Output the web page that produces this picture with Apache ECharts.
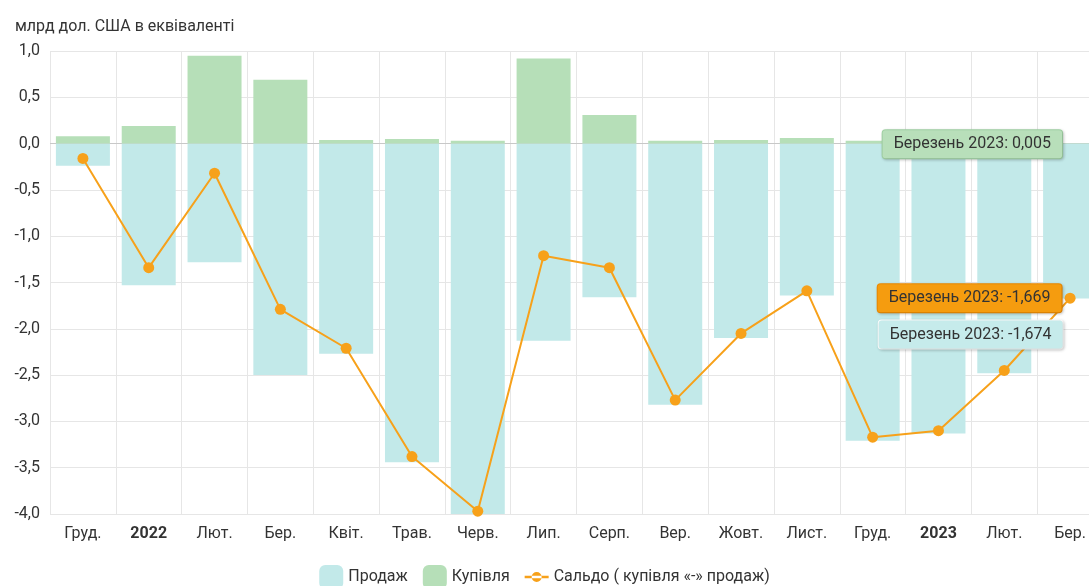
<!DOCTYPE html>
<html>
<head>
<meta charset="utf-8">
<script src="https://cdn.jsdelivr.net/npm/echarts@6/dist/echarts.min.js"></script>
<style>
  html, body { margin: 0; padding: 0; overflow: hidden; background: #fff; }
  #chart { width: 1089px; height: 586px; }
</style>
</head>
<body>
<div id="chart"></div>
<script>
const categories = ["Груд.", "2022", "Лют.", "Бер.", "Квіт.", "Трав.", "Черв.", "Лип.", "Серп.", "Вер.", "Жовт.", "Лист.", "Груд.", "2023", "Лют.", "Бер."];
const sales = [-0.24, -1.53, -1.28, -2.5, -2.27, -3.44, -4.0, -2.13, -1.66, -2.82, -2.1, -1.64, -3.21, -3.13, -2.48, -1.674];
const purchases = [0.08, 0.19, 0.95, 0.69, 0.04, 0.05, 0.03, 0.92, 0.31, 0.03, 0.04, 0.06, 0.03, 0.03, 0.03, 0.005];
const saldo = [-0.16, -1.34, -0.32, -1.79, -2.21, -3.38, -3.97, -1.21, -1.34, -2.77, -2.05, -1.59, -3.17, -3.1, -2.45, -1.669];
const yTicks = { min: -4, max: 1, step: 0.5 };
const tipName = "Березень 2023";

const FONT = "Roboto, 'Noto Sans', sans-serif";
const last = categories.length - 1;

const fmt = (v, d) => v.toFixed(d).replace(".", ",");

// подпись-«підказка» для останньої точки
const tip = (bg, border, extra) => Object.assign({
  show: true,
  formatter: (p) => tipName + ": " + fmt(p.value, 3),
  backgroundColor: bg,
  borderColor: border,
  borderWidth: 1,
  borderRadius: 3,
  padding: [5, 11, 4, 11],
  lineHeight: 19,
  color: "#333333",
  opacity: 1,
  textBorderWidth: 0,
  fontSize: 16,
  fontFamily: FONT,
  shadowColor: "rgba(0,0,0,0.18)",
  shadowBlur: 3,
  shadowOffsetX: 1,
  shadowOffsetY: 1,
}, extra);

// значок лінії з маркером для легенди (24x24)
const lineIcon = "path://M0,0L0.01,0L0,0.01Z M0,24L0.01,24L0,23.99Z " +
  "M0,10.8L24,10.8L24,13.2L0,13.2Z M7,12a5,5 0 1,0 10,0a5,5 0 1,0 -10,0Z";

const chart = echarts.init(document.getElementById("chart"));

chart.setOption({
  animation: false,
  textStyle: { fontFamily: FONT },
  title: {
    text: "млрд дол. США в еквіваленті",
    left: 10,
    top: 14,
    textStyle: { fontSize: 16, fontWeight: "normal", color: "#333333", fontFamily: FONT },
  },
  legend: {
    top: 560,
    left: "center",
    itemWidth: 24,
    itemHeight: 24,
    itemGap: 15,
    textStyle: { fontSize: 16, color: "#333333", fontFamily: FONT },
    data: [
      { name: "Продаж", icon: "roundRect" },
      { name: "Купівля", icon: "roundRect" },
      { name: "Сальдо ( купівля «-» продаж)", icon: lineIcon },
    ],
  },
  grid: { left: 50, top: 51, width: 1053, height: 463, outerBoundsMode: "none" },
  xAxis: {
    type: "category",
    data: categories,
    axisLine: { show: false },
    axisTick: { show: false },
    splitLine: { show: true, interval: 0, lineStyle: { color: "#e6e6e6" } },
    axisLabel: {
      interval: 0,
      margin: 12,
      fontSize: 16,
      color: "#333333",
      fontFamily: FONT,
      formatter: (v) => (/^\d{4}$/.test(v) ? "{b|" + v + "}" : v),
      rich: { b: { fontWeight: "bold", fontSize: 16, color: "#333333", fontFamily: FONT } },
    },
  },
  yAxis: {
    type: "value",
    min: yTicks.min,
    max: yTicks.max,
    interval: yTicks.step,
    axisLine: { show: false },
    axisTick: { show: false },
    splitLine: { lineStyle: { color: "#e6e6e6" } },
    axisLabel: {
      margin: 10,
      fontSize: 16,
      color: "#333333",
      fontFamily: FONT,
      formatter: (v) => fmt(v, 1),
    },
  },
  series: [
    {
      name: "Продаж",
      type: "bar",
      stack: "total",
      barWidth: 54,
      z: 2,
      itemStyle: { color: "#c2e9e9" },
      data: sales,
      markLine: {
        z: 2,
        silent: true,
        symbol: "none",
        label: { show: false },
        lineStyle: { color: "#c8c8c8", type: "solid", width: 1 },
        data: [{ yAxis: 0 }],
      },
    },
    {
      name: "Купівля",
      type: "bar",
      stack: "total",
      barWidth: 54,
      z: 3,
      itemStyle: { color: "#b6dfb8" },
      data: purchases.map((v, i) => i === last ? {
        value: v,
        label: tip("#b8dfba", "#a3d4a6", {
          position: ["50%", "50%"], align: "right", verticalAlign: "middle", offset: [-8, 1],
        }),
      } : v),
    },
    {
      name: "Сальдо ( купівля «-» продаж)",
      type: "line",
      z: 5,
      symbol: "circle",
      symbolSize: 11,
      lineStyle: { color: "#f7a11a", width: 2 },
      itemStyle: { color: "#f7a11a" },
      data: saldo.map((v, i) => i === last ? {
        value: v,
        label: tip("#f59c0f", "#f08c00", { position: "left", distance: 3 }),
      } : v),
    },
    {
      // підказка для продажу поверх лінії сальдо
      name: "tip-sales",
      type: "scatter",
      z: 6,
      silent: true,
      symbolSize: 1,
      itemStyle: { color: "#f7a11a" },
      data: sales.map((v, i) => i === last ? {
        value: v,
        label: tip("#c6ebeb", "#ffffff", { position: "left", distance: 7, offset: [0, 36] }),
      } : "-"),
    },
  ],
});
</script>
</body>
</html>
